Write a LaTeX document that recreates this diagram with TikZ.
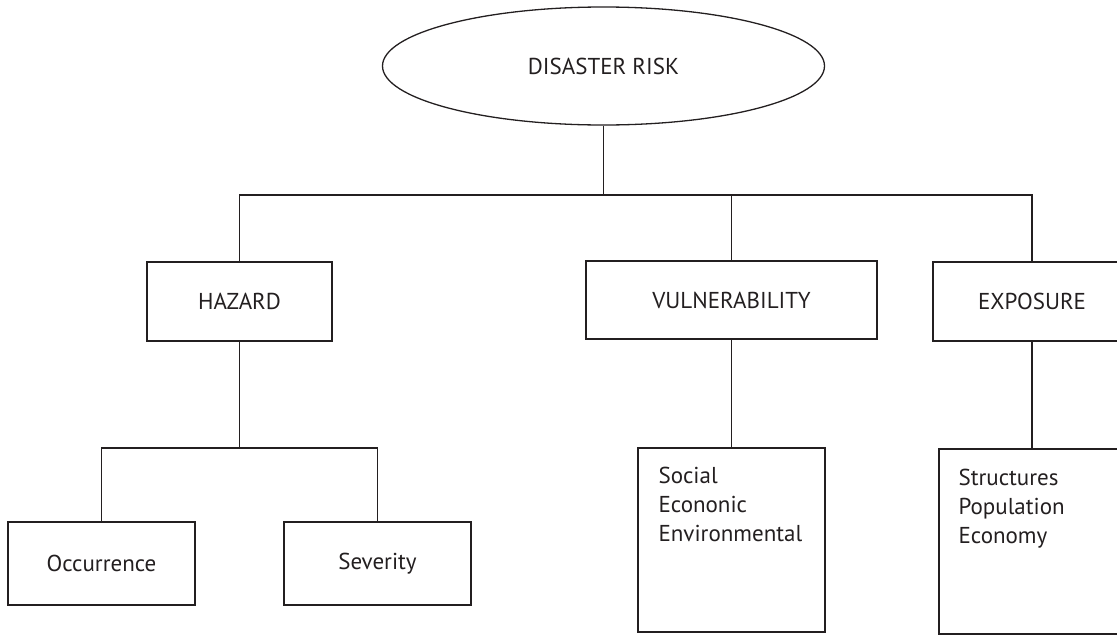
\documentclass[tikz,border=0pt]{standalone}
\usepackage{fontspec}
\setmainfont{PT Sans}
\usepackage{xcolor}
\usepackage{tikz}
\usetikzlibrary{shapes.geometric}
\definecolor{ink}{HTML}{231F20}

\begin{document}
\begin{tikzpicture}[x=1pt,y=-1pt]
\tikzstyle{every node}=[font=\fontsize{23}{29}\selectfont,text=ink]
\tikzstyle{topnode}=[ellipse,draw=ink,line width=1.3pt,inner sep=0pt,minimum width=442pt,minimum height=118pt]
\tikzstyle{catbox}=[rectangle,draw=ink,line width=1.3pt,inner sep=0pt]
\tikzstyle{itemlist}=[anchor=north west,align=left,inner sep=0pt]
\tikzstyle{link}=[draw=ink,line width=1.3pt]

\useasboundingbox (0,0) rectangle (1117,635);
\clip (0,0) rectangle (1117,635);

\node[topnode](risk) at (603.5,66){DISASTER RISK};

\node[catbox,minimum width=185pt,minimum height=79pt](hazard) at (239.5,301.5){HAZARD};
\node[catbox,minimum width=291pt,minimum height=78pt](vuln) at (731.5,300){VULNERABILITY};
\node[catbox,minimum width=198pt,minimum height=79pt](expo) at (1032,301.5){EXPOSURE};

\node[catbox,minimum width=187pt,minimum height=83pt](occ) at (101.5,563.5){Occurrence};
\node[catbox,minimum width=187pt,minimum height=83pt](sev) at (377.5,563.5){Severity};
\node[catbox,minimum width=187pt,minimum height=184pt,
  label={[itemlist,xshift=21pt,yshift=-20pt]north west:Social\\Econonic\\Environmental}](vulnlist) at (731.5,540){};
\node[catbox,minimum width=186pt,minimum height=185pt,
  label={[itemlist,xshift=20pt,yshift=-21pt]north west:Structures\\Population\\Economy}](expolist) at (1032,541.5){};

\coordinate (j1) at (603.5,195);
\coordinate (j2) at (239.5,448);

\draw[link] (risk.south) -- (j1);
\draw[link] (hazard.north) |- (j1) -| (expo.north);
\draw[link] (vuln.north) -- (vuln.north |- j1);
\draw[link] (hazard.south) -- (j2);
\draw[link] (occ.north) |- (j2) -| (sev.north);
\draw[link] (vuln.south) -- (vulnlist.north);
\draw[link] (expo.south) -- (expolist.north);
\end{tikzpicture}
\end{document}
